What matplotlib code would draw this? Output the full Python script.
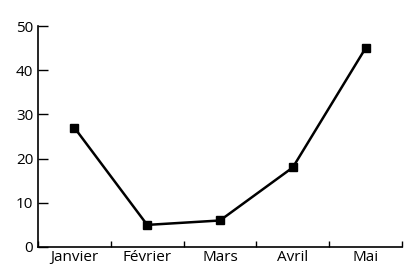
import matplotlib
matplotlib.use("Agg")
import matplotlib.pyplot as plt
import numpy as np

months = ["Janvier", "Février", "Mars", "Avril", "Mai"]
values = [27, 5, 6, 18, 45]

plt.rcParams['font.family'] = ['Open Sans', 'DejaVu Sans']

fig = plt.figure(figsize=(4.16, 2.72), dpi=100)
ax = fig.add_axes([38 / 416, 1 - 247 / 272, 364 / 416, 221 / 272])

x = np.arange(len(months)) + 0.5
ax.plot(x, values, color='black', lw=1.8, marker='s', ms=5.5)

ax.set_xlim(0, len(months))
ax.set_ylim(0, 50)
ax.set_yticks(range(0, 51, 10))
ax.set_xticks(x)
ax.set_xticklabels(months)
ax.set_xticks(np.arange(len(months) + 1), minor=True)

ax.tick_params(axis='x', which='major', length=0, pad=2, labelsize=11)
ax.tick_params(axis='x', which='minor', direction='in', length=4, width=1)
ax.tick_params(axis='y', direction='in', length=7, width=1, pad=3.5, labelsize=11)

for s in ['top', 'right']:
    ax.spines[s].set_visible(False)
for s in ['left', 'bottom']:
    ax.spines[s].set_linewidth(1.2)

fig.savefig("out.png", dpi=100)
